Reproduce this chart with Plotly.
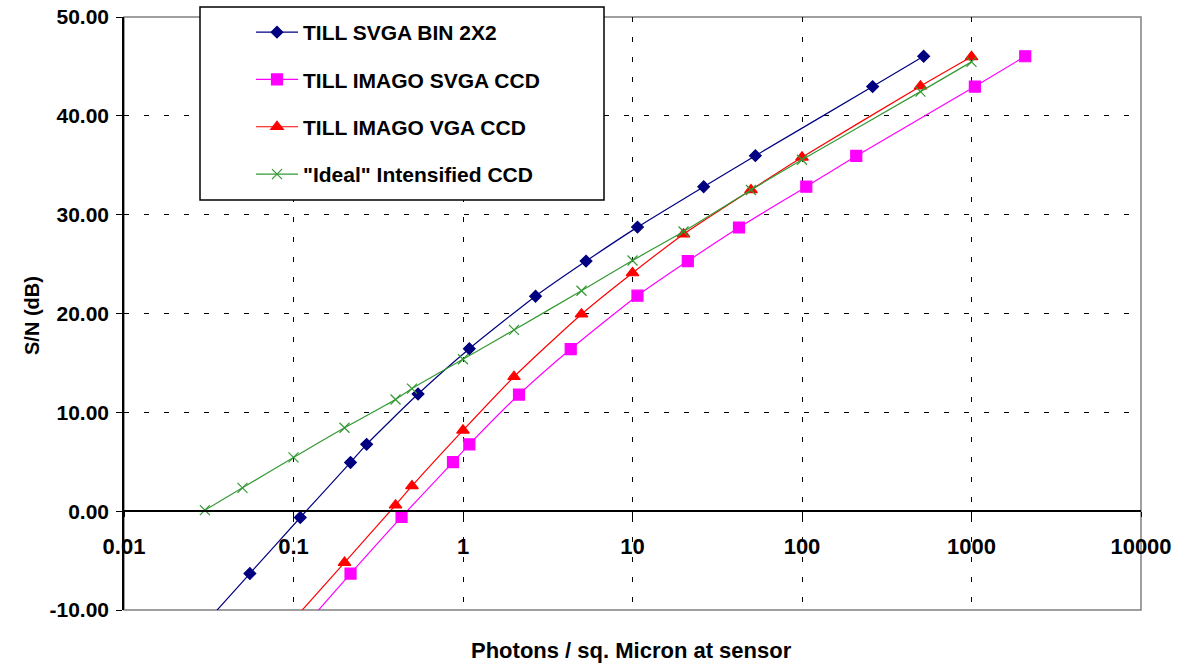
import plotly.graph_objects as go

# ---- data ----
svga_bin_x = [0.0272, 0.0553, 0.1096, 0.217, 0.270, 0.543, 1.09, 2.68, 5.32, 10.7, 26.3, 53.1, 261, 522]
svga_bin_y = [-12.2, -6.31, -0.64, 4.93, 6.76, 11.85, 16.44, 21.75, 25.3, 28.74, 32.83, 35.97, 42.96, 46.03]

imago_svga_x = [0.1086, 0.217, 0.434, 0.873, 1.09, 2.14, 4.32, 10.7, 21.2, 42.5, 106, 209, 1047, 2075]
imago_svga_y = [-12.2, -6.31, -0.58, 4.96, 6.76, 11.8, 16.4, 21.8, 25.3, 28.7, 32.83, 35.94, 42.96, 46.03]

imago_vga_x = [0.1, 0.2, 0.4, 0.5, 1, 2, 5, 10, 20, 50, 100, 500, 1000]
imago_vga_y = [-11.0, -5.2, 0.61, 2.55, 8.18, 13.6, 19.93, 24.1, 28.03, 32.5, 35.8, 43.0, 45.97]

ideal_x = [0.03, 0.05, 0.1, 0.2, 0.4, 0.5, 1, 2, 5, 10, 20, 50, 100, 500, 1000]
ideal_y = [0.1, 2.36, 5.44, 8.44, 11.3, 12.4, 15.37, 18.34, 22.3, 25.36, 28.3, 32.5, 35.56, 42.45, 45.46]

series_names = ['TILL SVGA BIN 2X2', 'TILL IMAGO SVGA CCD', 'TILL IMAGO VGA CCD', '"Ideal" Intensified CCD']

x_tickvals = [0.01, 0.1, 1, 10, 100, 1000, 10000]
x_ticktext = ['0.01', '0.1', '1', '10', '100', '1000', '10000']
y_tickvals = [-10, 0, 10, 20, 30, 40, 50]
y_ticktext = ['-10.00', '0.00', '10.00', '20.00', '30.00', '40.00', '50.00']

FONT = 'Liberation Sans, Arial, sans-serif'

fig = go.Figure()

styles = [
    dict(color='#000080', symbol='diamond', size=9),
    dict(color='#FF00FF', symbol='square', size=11),
    dict(color='#FF0000', symbol='triangle-up', size=11),
    dict(color='#339933', symbol='x-thin-open', size=10),
]
datasets = [(svga_bin_x, svga_bin_y), (imago_svga_x, imago_svga_y),
            (imago_vga_x, imago_vga_y), (ideal_x, ideal_y)]

for i, ((xs, ys), st, name) in enumerate(zip(datasets, styles, series_names)):
    fig.add_trace(go.Scatter(
        x=xs, y=ys, name=name, mode='lines+markers',
        line=dict(color=st['color'], width=1.2, shape='spline', smoothing=0.6),
        marker=dict(color=st['color'], symbol=st['symbol'], size=st['size'],
                    line=dict(color=st['color'], width=1.2)),
        legendgroup=f'g{i}',
    ))

W, H = 1181, 667
L, R, T, B = 124, 40, 17, 57
pw, ph = W - L - R, H - T - B

def px2paper_x(px):
    return (px - L) / pw

def px2paper_y(py):
    return (H - B - py) / ph

fig.update_layout(
    width=W, height=H,
    margin=dict(l=L, r=R, t=T, b=B, autoexpand=False),
    paper_bgcolor='white', plot_bgcolor='white',
    font=dict(family=FONT, color='black'),
    showlegend=True,
    legend=dict(
        x=px2paper_x(251), xanchor='left',
        y=px2paper_y(12), yanchor='top',
        bgcolor='rgba(0,0,0,0)', borderwidth=0,
        font=dict(family=FONT, size=21, color='black', weight='bold'),
        traceorder='grouped', tracegroupgap=17, itemwidth=42,
    ),
    xaxis=dict(
        type='log', range=[-2, 4],
        tickvals=x_tickvals, ticktext=x_ticktext,
        tickfont=dict(family=FONT, size=22, weight='bold'),
        showgrid=True, gridcolor='black', gridwidth=1, griddash='5px,15px',
        showline=True, linecolor='black', linewidth=1.5,
        ticks='outside', ticklen=5, tickcolor='black',
        anchor='free', position=1/6,
        ticklabelstandoff=11,
        zeroline=False, automargin=False,
    ),
    yaxis=dict(
        range=[-10, 50],
        tickvals=y_tickvals, ticktext=y_ticktext,
        tickfont=dict(family=FONT, size=21, weight='bold'),
        showgrid=True, gridcolor='black', gridwidth=1, griddash='5px,15px',
        showline=True, linecolor='black', linewidth=1.5,
        ticks='outside', ticklen=6, tickcolor='black',
        ticklabelstandoff=3,
        zeroline=False, automargin=False,
    ),
    shapes=[
        dict(type='rect', xref='paper', yref='paper', x0=0, x1=1, y0=0, y1=1,
             line=dict(color='#808080', width=1.5), layer='below'),
        dict(type='rect', xref='paper', yref='paper',
             x0=px2paper_x(200), x1=px2paper_x(604),
             y0=px2paper_y(200), y1=px2paper_y(7),
             line=dict(color='black', width=1.5), fillcolor='white', layer='above'),
    ],
    annotations=[
        dict(text='Photons / sq. Micron at sensor', xref='paper', yref='paper',
             x=px2paper_x(631), y=px2paper_y(650), xanchor='center', yanchor='middle',
             showarrow=False, font=dict(family=FONT, size=22, weight='bold')),
        dict(text='S/N (dB)', xref='paper', yref='paper',
             x=px2paper_x(32), y=px2paper_y(316), xanchor='center', yanchor='middle',
             textangle=-90, showarrow=False, font=dict(family=FONT, size=20, weight='bold')),
    ],
)

fig.write_html('out.html',
               config={'displayModeBar': False},
               post_script="document.body.style.margin='0';document.body.style.overflow='hidden';")
